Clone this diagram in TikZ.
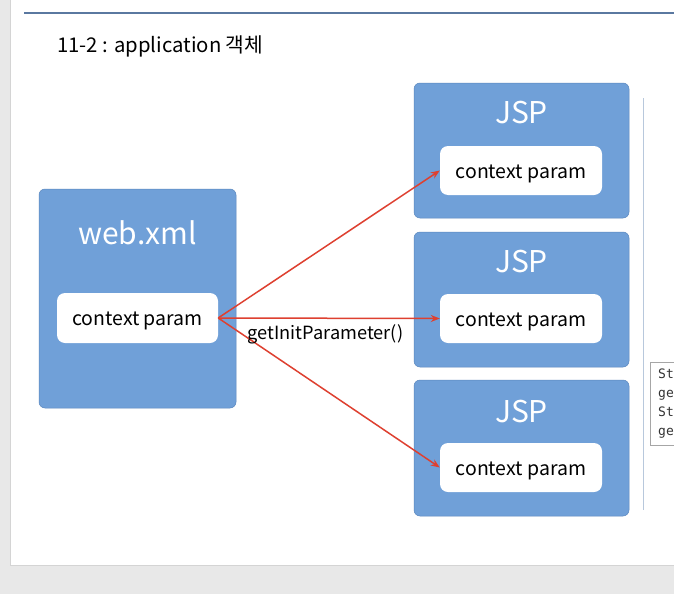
\documentclass[tikz,border=0pt]{standalone}
\usepackage{fontspec}
\setmainfont{Noto Sans CJK KR}
\setmonofont{DejaVu Sans Mono}
\usepackage{xcolor}
\usepackage{tikz}
\usetikzlibrary{arrows.meta}

\definecolor{boxblue}{RGB}{112,160,216}
\definecolor{boxline}{RGB}{90,135,190}
\definecolor{pagegray}{RGB}{232,232,232}
\definecolor{rulegray}{RGB}{212,212,212}
\definecolor{topline}{RGB}{90,120,160}
\definecolor{sideline}{RGB}{184,200,220}
\definecolor{callred}{RGB}{222,64,48}

\tikzset{
  outerbox/.style={draw=boxline, line width=.5pt, fill=boxblue, rounded corners=6pt,
                   inner sep=0pt, minimum width=#1},
  outerbox/.default=215pt,
  parambox/.style={fill=white, rounded corners=8pt, inner sep=0pt, text height=18pt, text depth=3pt,
                   font=\fontsize{19.5}{22}\selectfont},
  boxtitle/.style={text=white, inner sep=0pt, font=\fontsize{30}{34}\selectfont},
  call/.style={draw=callred, line width=1.5pt, -{Stealth[length=9pt,width=7pt]}}
}

\begin{document}
\begin{tikzpicture}[x=1pt, y=-1pt]
    \useasboundingbox (0,0) rectangle (674,594);
    \clip (0,0) rectangle (674,594);
    % page
    \fill[pagegray] (0,0) rectangle (674,594);
    \fill[white] (10,0) rectangle (674,565);
    \draw[rulegray, line width=1pt] (10,0) -- (10,565) -- (674,565);
    \draw[topline, line width=1.2pt] (24,13) -- (674,13);
    \node[anchor=west, inner sep=0pt, font=\fontsize{20.3}{24}\selectfont] (title) at (57,46) {11-2 : application 객체};

    % web.xml
    \node[outerbox=197pt, minimum height=219pt] (web) at (137.5,298.5) {};
    \node[boxtitle] (webtitle) at (137.5,233) {web.xml};
    \node[parambox, minimum width=161pt, minimum height=50pt] (webparam) at (137.5,318) {context param};

    % JSP boxes
    \node[outerbox, minimum height=135pt] (jspa) at (521.5,150.5) {};
    \node[boxtitle] (jspatitle) at (521.5,113) {JSP};
    \node[parambox, minimum width=162pt, minimum height=49pt] (jspaparam) at (521,170.5) {context param};

    \node[outerbox, minimum height=135pt] (jspb) at (521.5,299.5) {};
    \node[boxtitle] (jspbtitle) at (521.5,262) {JSP};
    \node[parambox, minimum width=162pt, minimum height=49pt] (jspbparam) at (521,318.5) {context param};

    \node[outerbox, minimum height=136pt] (jspc) at (521.5,448) {};
    \node[boxtitle] (jspctitle) at (521.5,411) {JSP};
    \node[parambox, minimum width=162pt, minimum height=49pt] (jspcparam) at (521,467.5) {context param};

    % calls
    \draw[call] (webparam.east) -- (jspaparam.west);
    \draw[call] (webparam.east) -- (jspbparam.west);
    \draw[call] (webparam.east) -- (jspcparam.west);
    \node[inner sep=0pt, font=\fontsize{18.2}{21}\selectfont] (calllabel) at (325.5,334) {getInitParameter()};

    % right side
    \draw[sideline, line width=1pt] (643,98) -- (643,510);
    \draw[gray!70, line width=.6pt] (680,362) -- (650.5,362) -- (650.5,445) -- (680,445);
    \node[anchor=north west, inner sep=0pt, align=left, font=\ttfamily\fontsize{13}{19}\selectfont,
          text=black!80] (snippet) at (658,369) {St\\ge\\St\\ge};
  \end{tikzpicture}
\end{document}
